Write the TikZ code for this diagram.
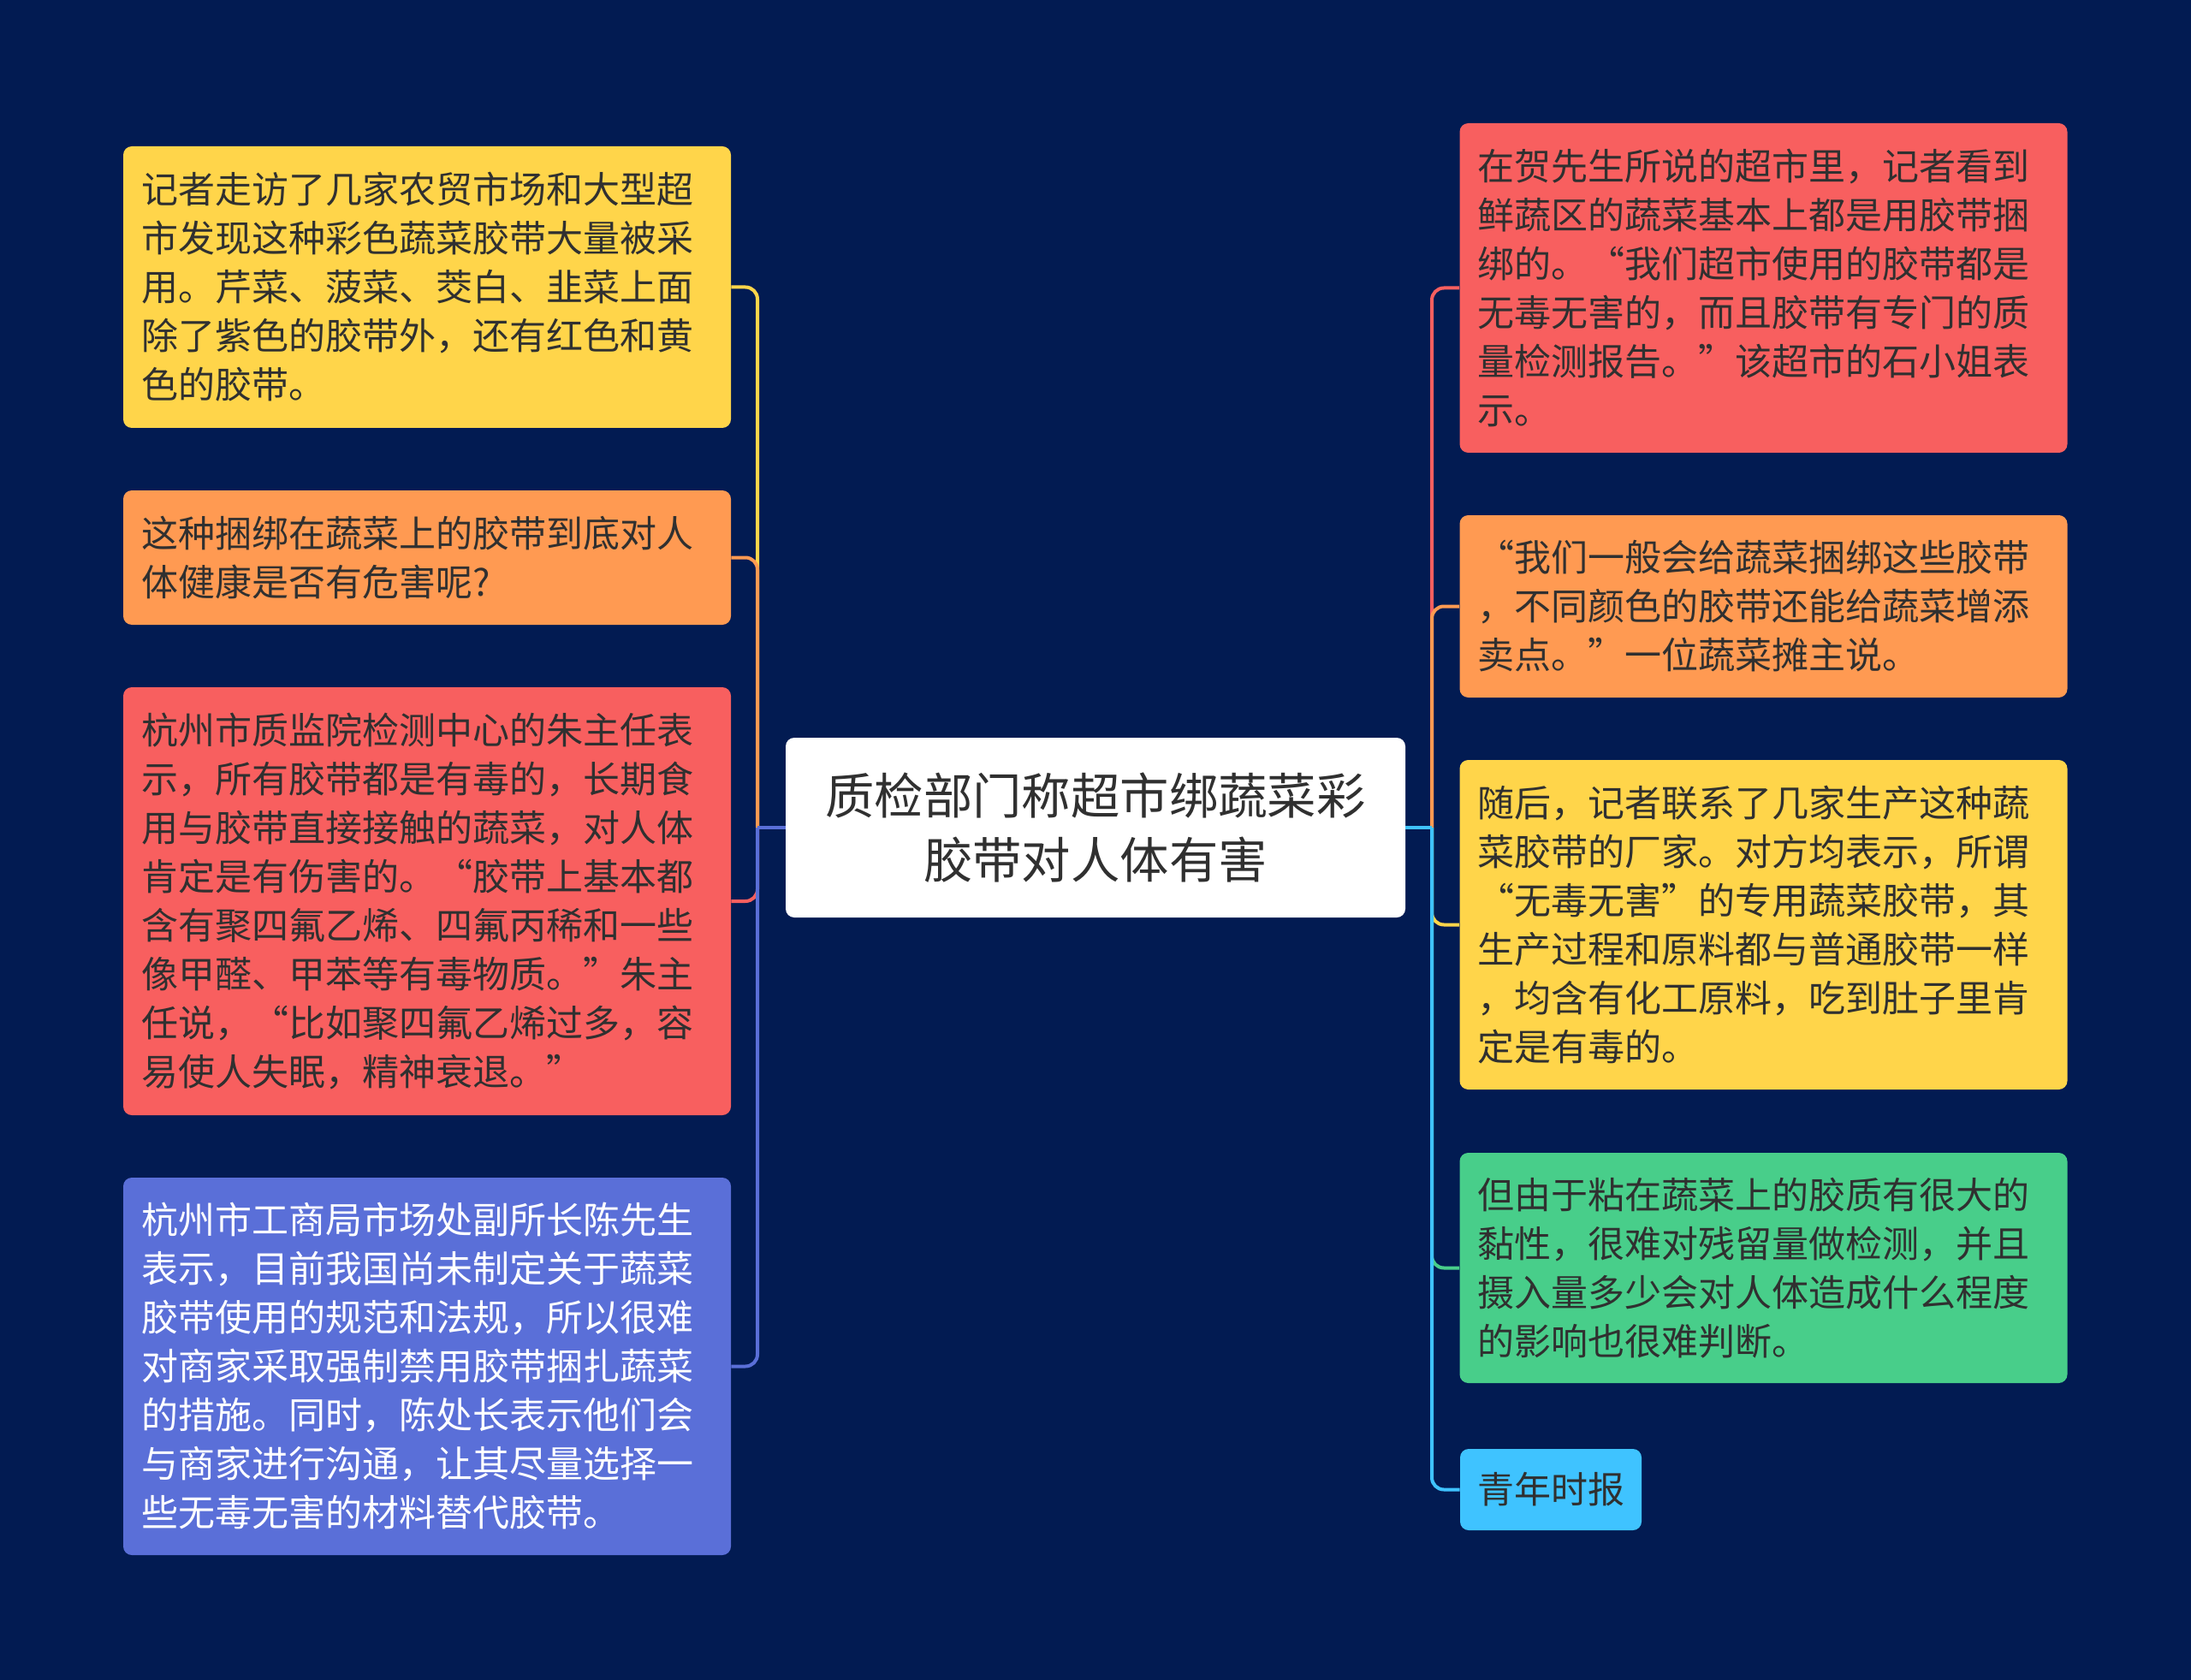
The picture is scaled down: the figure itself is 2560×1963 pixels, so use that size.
\documentclass[tikz,border=0pt]{standalone}
\usepackage{fontspec}
\setmainfont{Noto Sans CJK SC}
\usepackage{tikz}
\definecolor{bg}{HTML}{021B52}
\definecolor{ink}{HTML}{303030}
\definecolor{yel}{HTML}{FFD54A}
\definecolor{ora}{HTML}{FF9A52}
\definecolor{red}{HTML}{F85F5F}
\definecolor{blu}{HTML}{5A6FD8}
\definecolor{gre}{HTML}{48CE8A}
\definecolor{sky}{HTML}{3FC3FF}
\begin{document}
\begin{tikzpicture}[x=0.5pt,y=-0.5pt,
  every node/.style={rounded corners=5pt,inner ysep=0pt,text=ink},
  topic/.style={fill=white,minimum width=362pt,minimum height=105pt,align=center,font=\fontsize{28.7}{37.5}\selectfont},
  leaf/.style={text width=334pt,inner xsep=10.5pt,align=left,font=\fontsize{21.5}{28.5}\selectfont},
  link/.style={line width=2pt,rounded corners=7pt}]
\fill[bg] (0,0) rectangle (2560,1963);
\node[topic] (t) at (1280,967) {质检部门称超市绑蔬菜彩\\胶带对人体有害};
% left side
\node[leaf,fill=yel,minimum height=164.5pt] (l1) at (499,335.5) {记者走访了几家农贸市场和大型超\\市发现这种彩色蔬菜胶带大量被采\\用。芹菜、菠菜、茭白、韭菜上面\\除了紫色的胶带外，还有红色和黄\\色的胶带。};
\node[leaf,fill=ora,minimum height=78.5pt] (l2) at (499,651.5) {这种捆绑在蔬菜上的胶带到底对人\\体健康是否有危害呢?};
\node[leaf,fill=red,minimum height=250pt] (l3) at (499,1053) {杭州市质监院检测中心的朱主任表\\示，所有胶带都是有毒的，长期食\\用与胶带直接接触的蔬菜，对人体\\肯定是有伤害的。“胶带上基本都\\含有聚四氟乙烯、四氟丙稀和一些\\像甲醛、甲苯等有毒物质。”朱主\\任说，“比如聚四氟乙烯过多，容\\易使人失眠，精神衰退。”};
\node[leaf,fill=blu,text=white,minimum height=220.5pt] (l4) at (499,1596.5) {杭州市工商局市场处副所长陈先生\\表示，目前我国尚未制定关于蔬菜\\胶带使用的规范和法规，所以很难\\对商家采取强制禁用胶带捆扎蔬菜\\的措施。同时，陈处长表示他们会\\与商家进行沟通，让其尽量选择一\\些无毒无害的材料替代胶带。};
% right side
\node[leaf,fill=red,minimum height=192.5pt] (r1) at (2060.5,336.5) {在贺先生所说的超市里，记者看到\\鲜蔬区的蔬菜基本上都是用胶带捆\\绑的。“我们超市使用的胶带都是\\无毒无害的，而且胶带有专门的质\\量检测报告。”该超市的石小姐表\\示。};
\node[leaf,fill=ora,minimum height=106.5pt] (r2) at (2060.5,708.5) {“我们一般会给蔬菜捆绑这些胶带\\，不同颜色的胶带还能给蔬菜增添\\卖点。”一位蔬菜摊主说。};
\node[leaf,fill=yel,minimum height=192.5pt] (r3) at (2060.5,1080.5) {随后，记者联系了几家生产这种蔬\\菜胶带的厂家。对方均表示，所谓\\“无毒无害”的专用蔬菜胶带，其\\生产过程和原料都与普通胶带一样\\，均含有化工原料，吃到肚子里肯\\定是有毒的。};
\node[leaf,fill=gre,minimum height=134.5pt] (r4) at (2060.5,1481.5) {但由于粘在蔬菜上的胶质有很大的\\黏性，很难对残留量做检测，并且\\摄入量多少会对人体造成什么程度\\的影响也很难判断。};
\node[fill=sky,inner xsep=10pt,minimum width=106pt,minimum height=47.5pt,font=\fontsize{21.5}{28.5}\selectfont] (r5) at (1812,1740.5) {青年时报};
% connectors
\coordinate (jl) at (885,967);
\coordinate (jr) at (1673,967);
\draw[link,yel] (jl) |- (l1.east);
\draw[link,ora] (jl) |- (l2.east);
\draw[link,red] (jl) |- (l3.east);
\draw[link,blu] (jl) |- (l4.east);
\draw[link,blu] (t.west) -- (jl);
\draw[link,red] (jr) |- (r1.west);
\draw[link,ora] (jr) |- (r2.west);
\draw[link,yel] (jr) |- (r3.west);
\draw[link,gre] (jr) |- (r4.west);
\draw[link,sky] (jr) |- (r5.west);
\draw[link,sky] (t.east) -- (jr);
\end{tikzpicture}
\end{document}
